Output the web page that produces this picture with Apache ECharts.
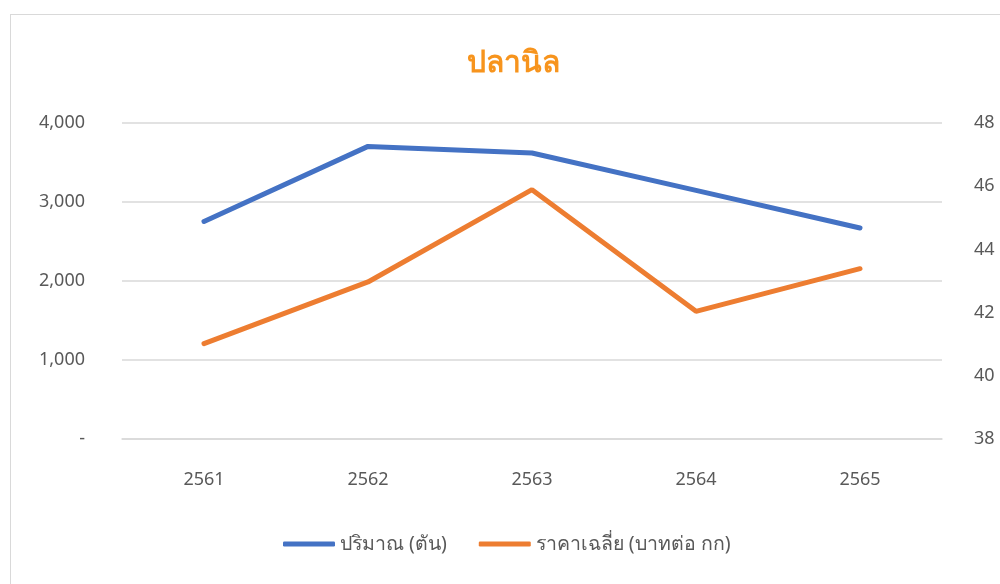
<!DOCTYPE html>
<html>
<head>
<meta charset="utf-8">
<script src="https://cdn.jsdelivr.net/npm/echarts@6/dist/echarts.min.js"></script>
<style>
  html, body { margin: 0; padding: 0; background: #fff; }
  #frame { position: absolute; left: 10px; top: 14px; width: 1000px; height: 580px; border: 1px solid #d9d9d9; box-sizing: border-box; }
  #main { position: absolute; left: 0; top: 0; width: 1000px; height: 584px; }
</style>
</head>
<body>
<div id="frame"></div>
<div id="main"></div>
<script>
// ข้อมูล ปลานิล
const years = ['2561', '2562', '2563', '2564', '2565'];
const amount = [2754, 3704, 3620, 3147, 2671];      // ปริมาณ (ตัน)
const price = [41.02, 42.97, 45.89, 42.04, 43.39];  // ราคาเฉลี่ย (บาทต่อ กก)

const font = 'Leelawadee UI, Tahoma, "Noto Sans", sans-serif';

const chartDom = document.getElementById('main');
const myChart = echarts.init(chartDom);

const option = {
  title: {
    text: 'ปลานิล',
    left: 508,
    textAlign: 'center',
    top: 43,
    textStyle: { color: '#F7941D', fontSize: 30, fontWeight: 'bold', fontFamily: font }
  },
  legend: {
    bottom: 25,
    left: 278,
    itemWidth: 52,
    itemHeight: 5,
    itemGap: 32,
    icon: 'roundRect',
    textStyle: { color: '#595959', fontSize: 19.5, fontFamily: font },
    data: ['ปริมาณ (ตัน)', 'ราคาเฉลี่ย (บาทต่อ กก)']
  },
  grid: { left: 122, right: 58, top: 123, bottom: 145 },
  xAxis: {
    type: 'category',
    data: years,
    axisLine: { lineStyle: { color: '#d9d9d9', width: 1.5 } },
    axisTick: { show: false },
    axisLabel: { color: '#595959', fontSize: 18, margin: 32, fontFamily: font }
  },
  yAxis: [
    {
      type: 'value',
      min: 0, max: 4000, interval: 1000,
      axisLine: { show: false },
      axisTick: { show: false },
      splitLine: { lineStyle: { color: '#d9d9d9', width: 1.5 } },
      axisLabel: {
        color: '#595959', fontSize: 18, margin: 37, fontFamily: font,
        formatter: v => v === 0 ? '-' : v.toLocaleString('en-US')
      }
    },
    {
      type: 'value',
      min: 38, max: 48, interval: 2,
      axisLine: { show: false },
      axisTick: { show: false },
      splitLine: { show: false },
      axisLabel: { color: '#595959', fontSize: 18, margin: 32, fontFamily: font }
    }
  ],
  series: [
    {
      name: 'ปริมาณ (ตัน)',
      type: 'line',
      data: amount,
      yAxisIndex: 0,
      symbol: 'none',
      color: '#4472C4',
      lineStyle: { width: 5, cap: 'round' }
    },
    {
      name: 'ราคาเฉลี่ย (บาทต่อ กก)',
      type: 'line',
      data: price,
      yAxisIndex: 1,
      symbol: 'none',
      color: '#ED7D31',
      lineStyle: { width: 5, cap: 'round' }
    }
  ]
};

option && myChart.setOption(option);
</script>
</body>
</html>
